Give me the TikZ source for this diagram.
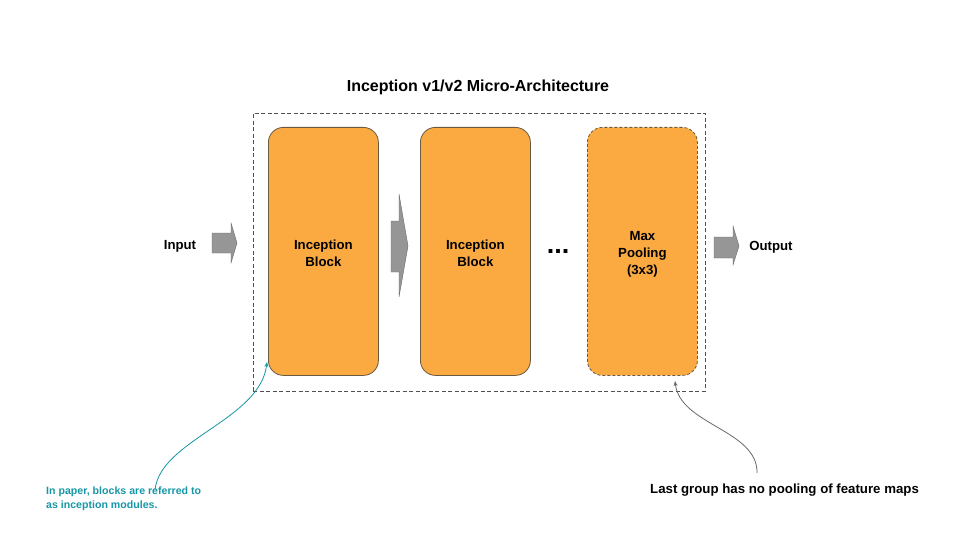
\documentclass[tikz,border=0pt]{standalone}
\usepackage{fontspec}
\setmainfont{Liberation Sans}
\usetikzlibrary{arrows.meta}
\definecolor{blockfill}{RGB}{250,170,65}
\definecolor{blockline}{RGB}{105,90,65}
\definecolor{arrfill}{RGB}{150,150,150}
\definecolor{arrline}{RGB}{105,105,105}
\definecolor{tealc}{RGB}{23,150,165}
\definecolor{framec}{RGB}{80,80,80}
\begin{document}
\begin{tikzpicture}[x=1pt,y=-1pt,
  blockbox/.style={draw=blockline, line width=0.8pt, fill=blockfill, rounded corners=15pt, minimum width=110pt, minimum height=248pt, anchor=north west, inner sep=0pt},
  lbl/.style={font=\bfseries\fontsize{13.2}{16.8}\selectfont, align=center, text=black},
  bigarrow/.style={fill=arrfill, draw=arrline, line width=0.4pt},
  note/.style={line width=0.8pt, -{Stealth[length=5pt,width=4pt]}}]
\useasboundingbox (0,0) rectangle (960,540);
% title
\node[font=\bfseries\fontsize{16}{19}\selectfont] (title) at (478,87) {Inception v1/v2 Micro-Architecture};
% frame
\node[draw=framec, dash pattern=on 4pt off 2.5pt, line width=0.7pt, minimum width=452pt, minimum height=278pt, anchor=north west, inner sep=0pt] (frame) at (253,113) {};
% blocks
\node[blockbox] (b1) at (268,127) {};
\node[blockbox] (b2) at (420,127) {};
\node[blockbox, dash pattern=on 3pt off 2pt] (b3) at (587,127) {};
\node[lbl] at ([yshift=-2pt]b1.center) {Inception\\Block};
\node[lbl] at ([yshift=-2pt]b2.center) {Inception\\Block};
\node[lbl] at ([yshift=-3pt]b3.center) {Max\\Pooling\\(3x3)};
\node[font=\bfseries\fontsize{27}{27}\selectfont] (dots) at (558,251) {...};
% input / output
\node[lbl] (input) at (180,246) {Input};
\node[lbl] (output) at (771,247) {Output};
% block arrows
\draw[bigarrow] (212,233) -- (231,233) -- (231,223) -- (237,243) -- (231,263) -- (231,253) -- (212,253) -- cycle;
\draw[bigarrow] (391,221) -- (399,221) -- (399,194) -- (408,246) -- (399,297) -- (399,272) -- (391,272) -- cycle;
\draw[bigarrow] (714,237) -- (733,237) -- (733,226) -- (739,246) -- (733,265) -- (733,258) -- (714,258) -- cycle;
% notes
\node[font=\bfseries\fontsize{10.6}{13.5}\selectfont, text=tealc, align=left, anchor=north west, inner sep=0pt] (note1) at (46,487) {In paper, blocks are referred to\\as inception modules.};
\node[font=\bfseries\fontsize{13.25}{16}\selectfont, anchor=north west, inner sep=0pt] (note2) at (650,484) {Last group has no pooling of feature maps};
\coordinate (n1s) at (155,490);
\coordinate (n1e) at (267,362);
\coordinate (n2s) at (757,473);
\coordinate (n2e) at (675,381);
\draw[note, draw=tealc] (n1s) .. controls (160,440) and (260,420) .. (n1e);
\draw[note, draw=arrline] (n2s) .. controls (758,430) and (680,425) .. (n2e);
\end{tikzpicture}
\end{document}
